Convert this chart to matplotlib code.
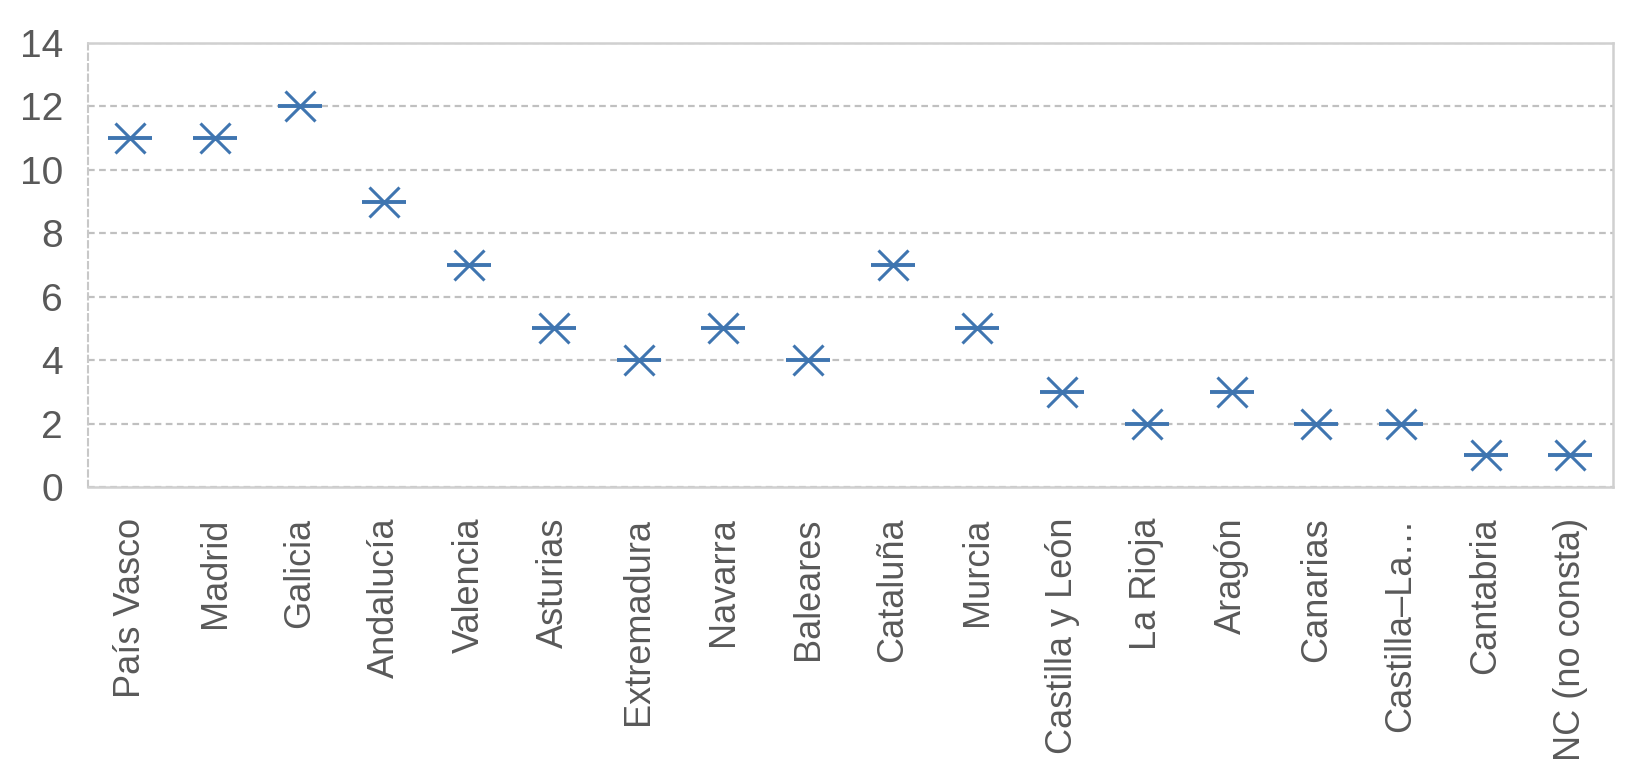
import matplotlib.pyplot as plt

regions = ["País Vasco", "Madrid", "Galicia", "Andalucía", "Valencia", "Asturias",
           "Extremadura", "Navarra", "Baleares", "Cataluña", "Murcia",
           "Castilla y León", "La Rioja", "Aragón", "Canarias", "Castilla–La…",
           "Cantabria", "NC (no consta)"]
counts = [11, 11, 12, 9, 7, 5, 4, 5, 4, 7, 5, 3, 2, 3, 2, 2, 1, 1]
yticks = [0, 2, 4, 6, 8, 10, 12, 14]

plt.rcParams['font.family'] = ['Liberation Sans', 'DejaVu Sans']

fig = plt.figure(figsize=(16.39, 7.8), dpi=100)
ax = fig.add_axes([0.0537, 0.3756, 0.9303, 0.5693])

xs = list(range(len(regions)))
col = '#3f75b0'
# Excel-like "star" marker: an x with a horizontal bar through it
ax.plot(xs, counts, linestyle='none', marker='x', markersize=21,
        markeredgewidth=2.2, color=col, zorder=3)
ax.plot(xs, counts, linestyle='none', marker='_', markersize=32,
        markeredgewidth=2.8, color=col, zorder=3)

ax.set_xlim(-0.5, len(regions) - 0.5)
ax.set_ylim(0, 14)
ax.set_yticks(yticks)
ax.set_xticks(xs)
ax.set_xticklabels(regions, rotation=90)

ax.grid(axis='y', color='#c0c0c0', linestyle=(0, (3, 2)), linewidth=1.6)
ax.set_axisbelow(True)
for s in ['top', 'right', 'bottom']:
    ax.spines[s].set_color('#d0d0d0')
    ax.spines[s].set_linewidth(1.8)
ax.spines['left'].set_color('#c8c8c8')
ax.spines['left'].set_linestyle((0, (3, 2)))
ax.spines['left'].set_linewidth(1.5)

ax.tick_params(axis='y', length=0, pad=18, labelsize=28, labelcolor='#595959')
ax.tick_params(axis='x', length=0, pad=22, labelsize=26, labelcolor='#595959')

fig.savefig('out.png', dpi=100)
